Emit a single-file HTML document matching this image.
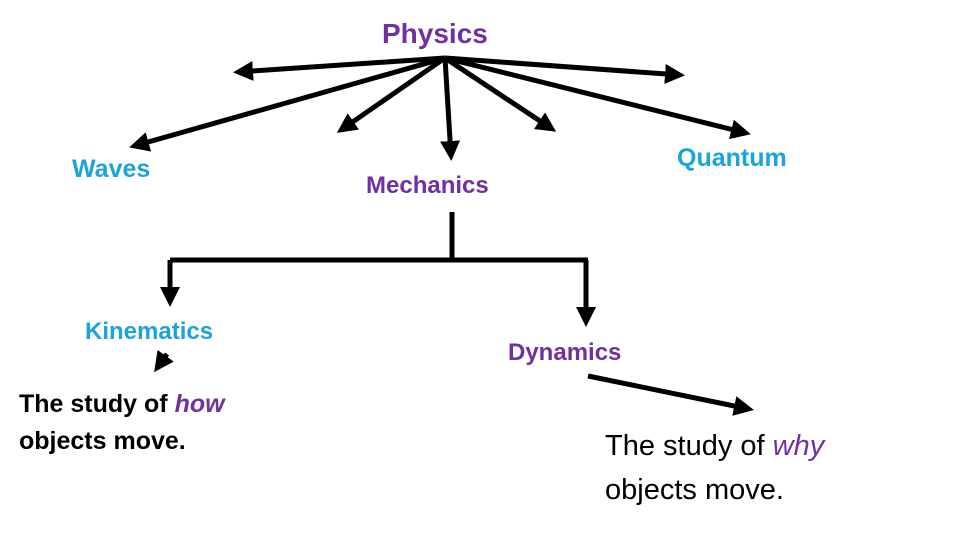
<!DOCTYPE html>
<html><head><style>
body{margin:0;width:960px;height:540px;background:#fff;position:relative;overflow:hidden;font-family:"Liberation Sans",sans-serif}
.t{position:absolute;white-space:nowrap;line-height:1}
.p{color:#7030A0}.b{color:#1BA3DC}
</style></head><body>
<svg width="960" height="540" style="position:absolute;left:0;top:0">
<defs><marker id="a" markerWidth="4" markerHeight="4" refX="3" refY="2" orient="auto" markerUnits="strokeWidth"><path d="M0,0L4,2L0,4z" fill="#000"/></marker></defs>
<g stroke="#000" stroke-width="5" fill="none" marker-end="url(#a)">
<line x1="445" y1="58" x2="238" y2="72"/>
<line x1="445" y1="58" x2="680" y2="75"/>
<line x1="445" y1="58" x2="134" y2="146"/>
<line x1="445" y1="58" x2="341" y2="130"/>
<line x1="445" y1="58" x2="451" y2="156"/>
<line x1="445" y1="58" x2="552" y2="129"/>
<line x1="445" y1="58" x2="746" y2="133"/>
<line x1="170" y1="260" x2="170" y2="302"/>
<line x1="586" y1="260" x2="586" y2="322"/>
<line x1="167" y1="354" x2="157" y2="368"/>
<line x1="588" y1="376" x2="749" y2="409"/>
</g>
<polyline points="452,212 452,260 170,260" stroke="#000" stroke-width="5" fill="none"/>
<line x1="452" y1="260" x2="588" y2="260" stroke="#000" stroke-width="5"/>
</svg>
<div class="t p" style="left:382px;top:20px;font-size:28px;font-weight:bold">Physics</div>
<div class="t b" style="left:72px;top:157px;font-size:25px;font-weight:bold">Waves</div>
<div class="t p" style="left:366px;top:174px;font-size:24px;font-weight:bold">Mechanics</div>
<div class="t b" style="left:677px;top:146px;font-size:25px;font-weight:bold">Quantum</div>
<div class="t b" style="left:85px;top:320px;font-size:24px;font-weight:bold">Kinematics</div>
<div class="t p" style="left:508px;top:341px;font-size:24px;font-weight:bold">Dynamics</div>
<div class="t" style="left:19px;top:386px;font-size:25px;line-height:37px;font-weight:bold">The study of <i class="p">how</i><br>objects move.</div>
<div class="t" style="left:605px;top:424px;font-size:29px;line-height:44px">The study of <i class="p">why</i><br>objects move.</div>
</body></html>
